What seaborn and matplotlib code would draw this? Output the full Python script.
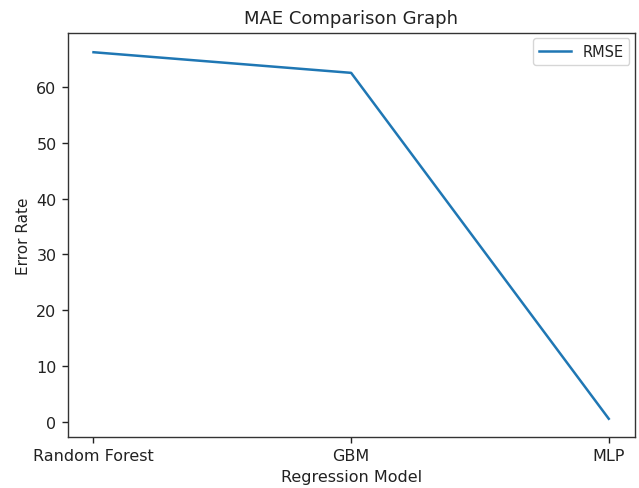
import matplotlib
matplotlib.use("Agg")
import matplotlib.pyplot as plt
import seaborn as sns
import pandas as pd

models = ["Random Forest", "GBM", "MLP"]
rmse = [66.3, 62.6, 0.5]

df = pd.DataFrame({"Regression Model": models, "Error Rate": rmse})

plt.rcParams.update({
    "font.family": "DejaVu Sans",
    "font.size": 11.5,
    "axes.linewidth": 1.0,
    "axes.edgecolor": "#333333",
    "xtick.major.width": 1.0,
    "ytick.major.width": 1.0,
    "xtick.major.size": 4.5,
    "ytick.major.size": 4.5,
    "text.color": "#222222",
    "xtick.color": "#222222",
    "ytick.color": "#222222",
    "axes.labelcolor": "#222222",
})

fig, ax = plt.subplots(figsize=(6.39, 4.89), dpi=100)
fig.subplots_adjust(left=0.106, right=0.993, top=0.931, bottom=0.104)

sns.lineplot(data=df, x="Regression Model", y="Error Rate", ax=ax,
             color="#1f77b4", linewidth=1.8, label="RMSE", sort=False)

ax.set_title("MAE Comparison Graph", fontsize=13, pad=7)
ax.set_xlabel("Regression Model", fontsize=11.5)
ax.set_ylabel("Error Rate", fontsize=11)
ax.set_xlim(-0.1, 2.1)
ax.set_ylim(-2.8, 69.8)
ax.set_yticks([0, 10, 20, 30, 40, 50, 60])
ax.legend(loc="upper right", fontsize=10.5, handlelength=2.2,
          borderaxespad=0.35)

fig.savefig("out.png", dpi=100)
